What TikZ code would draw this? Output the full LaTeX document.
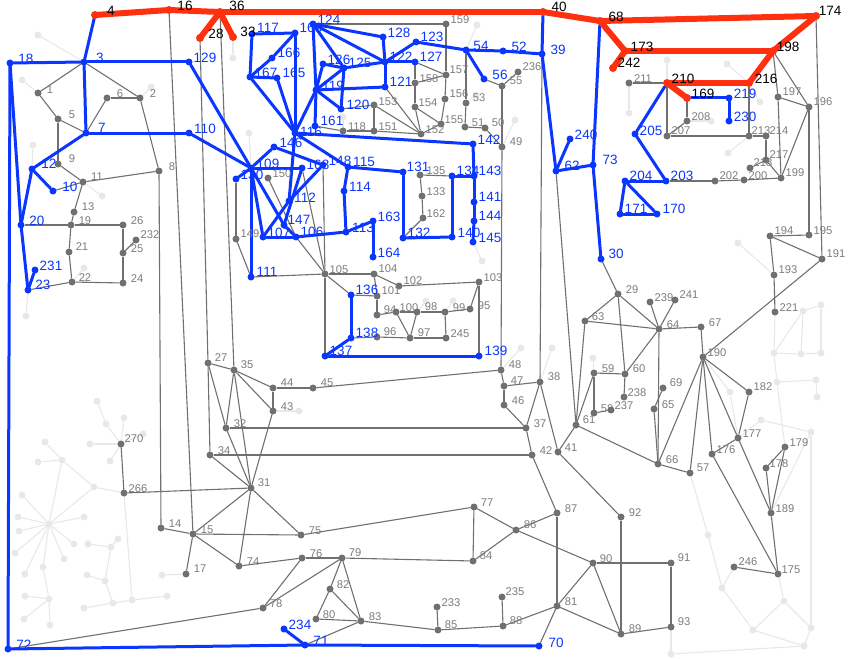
\documentclass[tikz,border=0pt]{standalone}
\usepackage{fontspec}
\setmainfont{Liberation Sans}
\usetikzlibrary{backgrounds}
\definecolor{cblue}{HTML}{0A36FF}
\definecolor{cred}{HTML}{FF3010}
\definecolor{cgray}{HTML}{707070}
\definecolor{cgtxt}{HTML}{7C7C7C}
\definecolor{clight}{HTML}{E8E8E8}
\tikzset{
 dotbase/.style={circle,inner sep=0pt,outer sep=0pt,minimum size=7pt},
 gdot/.style={dotbase,fill=cgray},
 bdot/.style={dotbase,fill=cblue},
 rdot/.style={dotbase,fill=cred,minimum size=8pt},
 ldot/.style={dotbase,fill=clight},
 glbl/.style={text=cgtxt,inner sep=0pt,font=\fontsize{11.2}{12}\selectfont},
 blbl/.style={text=cblue,inner sep=0pt,font=\fontsize{13.5}{14}\selectfont},
 rlbl/.style={text=black,inner sep=0pt,font=\fontsize{13.5}{14}\selectfont},
 ledge/.style={draw=clight,line width=1.1pt},
 gedge/.style={draw=cgray,line width=1.1pt},
 bedge/.style={draw=cblue,line width=3pt,line cap=round},
 redge/.style={draw=cred,line width=6pt,line cap=round,line join=round}
}
\newcommand{\GN}[5]{\node[gdot] (n#1) at (#2,#3) {};\node[glbl] (t#1) at (#4,#5) {#1};}
\newcommand{\BN}[5]{\node[bdot] (n#1) at (#2,#3) {};\node[blbl] (t#1) at (#4,#5) {#1};}
\newcommand{\RN}[5]{\node[rdot] (n#1) at (#2,#3) {};\node[rlbl] (t#1) at (#4,#5) {#1};}
\newcommand{\LN}[3]{\node[ldot] (n#1) at (#2,#3) {};}
\begin{document}
\begin{tikzpicture}[x=1pt,y=-1pt]
\useasboundingbox (0,0) rectangle (853,658);
% light nodes
\LN{a1}{38}{35}\LN{a2}{22}{80}\LN{a3}{151}{87}\LN{a4}{33}{145}\LN{a5}{102}{196}\LN{a6}{26}{316}\LN{a7}{84}{268}
\LN{a8}{233}{58}\LN{a9}{249}{133}\LN{a10}{343}{117}\LN{a11}{477}{25}\LN{a12}{476}{95}\LN{a13}{515}{120}\LN{a14}{482}{261}
\LN{a15}{426}{301}\LN{a16}{453}{301}\LN{a17}{521}{348}\LN{a18}{552}{348}\LN{a19}{299}{411}\LN{a20}{629}{113}\LN{a21}{667}{60}
\LN{a22}{711}{121}\LN{a23}{727}{64}\LN{a24}{760}{102}\LN{a25}{728}{153}\LN{a26}{738}{243}\LN{a27}{593}{358}
\LN{b1}{803}{311}\LN{b2}{821}{305}\LN{b3}{774}{353}\LN{b4}{801}{354}\LN{b5}{821}{353}\LN{b6}{777}{382}\LN{b7}{816}{380}\LN{b8}{817}{397}
\LN{b9}{730}{392}\LN{b10}{761}{420}\LN{b11}{811}{432}\LN{b12}{708}{535}\LN{b13}{722}{588}\LN{b14}{753}{630}\LN{b15}{784}{601}\LN{b16}{811}{628}\LN{b17}{804}{646}\LN{b18}{671}{654}
\LN{c1}{97}{401}\LN{c2}{106}{424}\LN{c3}{124}{418}\LN{c4}{143}{434}\LN{c5}{90}{444}\LN{c6}{110}{461}
\LN{c7}{45}{442}\LN{c8}{62}{460}\LN{c9}{38}{462}\LN{c10}{94}{487}\LN{c11}{49}{524}\LN{c12}{22}{495}\LN{c13}{18}{517}\LN{c14}{19}{531}\LN{c15}{15}{553}
\LN{c16}{25}{574}\LN{c17}{43}{567}\LN{c18}{64}{559}\LN{c19}{74}{544}\LN{c20}{84}{517}\LN{c21}{49}{599}\LN{c22}{25}{596}\LN{c23}{24}{619}\LN{c24}{50}{625}
\LN{c25}{88}{544}\LN{c26}{111}{547}\LN{c27}{118}{539}\LN{c28}{105}{581}\LN{c29}{87}{575}\LN{c30}{113}{603}\LN{c31}{84}{608}\LN{c32}{132}{600}\LN{c33}{167}{596}\LN{c34}{162}{575}
% gray nodes
\GN{1}{38}{93}{50}{90}\GN{2}{140}{98}{153}{94}\GN{5}{58}{119}{72}{115}\GN{6}{107}{98}{120}{94}\GN{8}{159}{171}{172}{167}\GN{9}{58}{164}{72}{159}
\GN{11}{83}{182}{97}{177}\GN{13}{74}{212}{88}{207}\GN{19}{71}{225}{85}{221}\GN{21}{69}{252}{82}{247}\GN{22}{72}{282}{85}{278}\GN{24}{123}{283}{137}{279}
\GN{25}{123}{253}{137}{249}\GN{26}{123}{225}{137}{221}\GN{232}{136}{240}{150}{235}\GN{149}{236}{239}{250}{234}\GN{27}{208}{363}{221}{358}\GN{35}{234}{370}{247}{365}
\GN{44}{273}{388}{287}{383}\GN{45}{313}{388}{327}{383}\GN{43}{273}{411}{287}{407}\GN{32}{226}{428}{240}{424}\GN{34}{210}{455}{224}{451}\GN{31}{251}{488}{264}{483}
\GN{270}{121}{444}{134}{439}\GN{266}{124}{493}{138}{489}\GN{14}{161}{528}{175}{524}\GN{15}{193}{534}{207}{530}\GN{17}{186}{574}{200}{569}\GN{74}{239}{566}{253}{562}
\GN{75}{301}{535}{315}{531}\GN{76}{302}{558}{316}{554}\GN{78}{263}{608}{276}{604}\GN{77}{474}{507}{487}{503}\GN{86}{516}{530}{530}{525}\GN{79}{342}{558}{355}{553}
\GN{84}{473}{561}{486}{556}\GN{82}{330}{589}{343}{585}\GN{80}{316}{619}{329}{615}\GN{83}{361}{621}{375}{617}\GN{233}{437}{607}{451}{603}\GN{85}{438}{630}{451}{625}
\GN{235}{502}{597}{515}{592}\GN{88}{503}{626}{516}{621}\GN{87}{557}{513}{571}{509}\GN{81}{557}{606}{571}{602}\GN{61}{576}{425}{589}{420}\GN{41}{558}{452}{571}{448}
\GN{42}{532}{455}{546}{451}\GN{92}{621}{517}{635}{513}\GN{66}{658}{464}{672}{460}\GN{57}{690}{473}{703}{468}\GN{176}{712}{454}{726}{450}\GN{177}{738}{438}{752}{434}
\GN{179}{785}{447}{799}{443}\GN{178}{766}{468}{779}{464}\GN{189}{771}{513}{785}{509}\GN{90}{593}{563}{606}{559}\GN{91}{671}{563}{684}{558}\GN{89}{621}{634}{635}{629}
\GN{93}{671}{627}{684}{622}\GN{246}{734}{567}{748}{562}\GN{175}{778}{574}{791}{570}\GN{29}{618}{294}{632}{290}\GN{239}{650}{302}{664}{298}\GN{241}{675}{300}{689}{295}
\GN{63}{585}{321}{598}{317}\GN{64}{659}{329}{673}{325}\GN{67}{701}{327}{715}{323}\GN{190}{703}{357}{717}{353}\GN{59}{594}{373}{608}{369}\GN{60}{625}{374}{639}{369}
\GN{238}{624}{397}{637}{393}\GN{58}{594}{413}{607}{409}\GN{237}{611}{410}{624}{406}\GN{69}{663}{388}{676}{383}\GN{65}{654}{409}{668}{405}\GN{182}{749}{392}{763}{387}
\GN{193}{774}{275}{788}{270}\GN{221}{775}{312}{789}{308}\GN{194}{770}{236}{784}{231}\GN{195}{809}{235}{823}{231}\GN{191}{822}{259}{836}{254}
\GN{211}{629}{83}{643}{79}\GN{208}{687}{121}{701}{117}\GN{207}{667}{136}{681}{131}\GN{213}{749}{136}{761}{131}\GN{214}{766}{136}{779}{131}\GN{217}{766}{160}{779}{155}
\GN{218}{750}{168}{763}{163}\GN{199}{781}{178}{795}{173}\GN{202}{715}{181}{729}{176}\GN{200}{744}{180}{758}{176}\GN{197}{778}{97}{792}{92}\GN{196}{809}{107}{823}{102}
\GN{159}{446}{24}{460}{20}\GN{55}{502}{86}{516}{81}\GN{236}{518}{72}{532}{67}\GN{157}{446}{75}{459}{70}\GN{158}{415}{83}{429}{79}\GN{156}{445}{99}{459}{94}
\GN{53}{466}{103}{479}{98}\GN{154}{415}{107}{428}{103}\GN{155}{441}{124}{454}{120}\GN{152}{421}{134}{435}{130}\GN{51}{465}{127}{478}{123}\GN{50}{485}{128}{498}{123}
\GN{49}{502}{147}{516}{142}\GN{135}{420}{175}{436}{171}\GN{133}{422}{196}{436}{192}\GN{162}{423}{218}{436}{214}\GN{153}{374}{105}{388}{102}\GN{118}{343}{131}{357}{127}
\GN{151}{374}{131}{388}{127}\GN{150}{268}{178}{282}{174}\GN{105}{325}{274}{339}{270}\GN{104}{374}{274}{388}{269}\GN{102}{399}{286}{413}{281}\GN{103}{479}{282}{493}{278}
\GN{101}{377}{296}{391}{291}\GN{94}{377}{315}{390}{310}\GN{100}{396}{312}{409}{308}\GN{98}{417}{312}{431}{307}\GN{99}{445}{312}{459}{308}\GN{95}{470}{309}{484}{306}
\GN{96}{377}{337}{390}{332}\GN{97}{410}{338}{424}{333}\GN{245}{446}{338}{460}{334}\GN{48}{501}{370}{515}{365}\GN{47}{504}{386}{517}{381}\GN{38}{540}{382}{554}{377}
\GN{46}{504}{405}{518}{401}\GN{37}{526}{428}{540}{424}
% blue nodes
\BN{18}{10}{63}{26}{59}\BN{3}{84}{62}{100}{58}\BN{129}{189}{62}{205}{58}\BN{7}{86}{133}{102}{128}\BN{110}{189}{133}{205}{129}\BN{12}{32}{169}{49}{164}\BN{10}{53}{191}{70}{187}
\BN{20}{21}{225}{37}{221}\BN{231}{35}{270}{51}{266}\BN{23}{28}{290}{43}{285}\BN{111}{251}{277}{267}{272}\BN{234}{284}{629}{300}{625}\BN{71}{305}{645}{321}{641}\BN{72}{8}{649}{24}{645}
\BN{70}{539}{646}{556}{643}\BN{30}{601}{259}{616}{254}\BN{73}{593}{165}{610}{160}\BN{219}{729}{98}{745}{94}\BN{230}{729}{121}{745}{117}\BN{205}{635}{134}{651}{131}
\BN{203}{666}{181}{682}{176}\BN{204}{625}{181}{641}{176}\BN{171}{620}{214}{636}{209}\BN{170}{657}{214}{674}{209}\BN{54}{466}{50}{481}{46}\BN{52}{503}{51}{519}{47}
\BN{39}{542}{54}{558}{50}\BN{123}{416}{42}{432}{37}\BN{127}{415}{62}{431}{57}\BN{56}{484}{79}{500}{75}\BN{142}{473}{144}{489}{140}\BN{240}{570}{139}{586}{135}\BN{62}{556}{171}{572}{166}
\BN{131}{403}{172}{418}{167}\BN{134}{452}{176}{468}{171}\BN{143}{474}{176}{490}{171}\BN{141}{474}{202}{490}{197}\BN{144}{474}{221}{490}{216}\BN{132}{403}{238}{419}{233}
\BN{140}{452}{237}{469}{233}\BN{145}{473}{242}{490}{238}\BN{117}{252}{34}{268}{28}\BN{160}{295}{33}{311}{28}\BN{124}{313}{24}{329}{20}\BN{128}{383}{37}{399}{33}\BN{122}{385}{62}{401}{57}
\BN{166}{272}{58}{289}{53}\BN{167}{250}{77}{266}{73}\BN{165}{277}{78}{294}{73}\BN{126}{323}{64}{339}{60}\BN{125}{344}{68}{360}{63}\BN{119}{316}{90}{333}{86}\BN{121}{385}{87}{401}{82}
\BN{120}{341}{109}{358}{105}\BN{161}{315}{126}{332}{121}\BN{116}{295}{133}{311}{132}\BN{146}{274}{147}{291}{143}\BN{109}{251}{168}{268}{164}\BN{130}{236}{179}{252}{175}
\BN{168}{302}{168}{318}{165}\BN{148}{323}{165}{340}{161}\BN{115}{348}{167}{364}{162}\BN{114}{344}{191}{360}{187}\BN{112}{289}{201}{305}{198}\BN{147}{284}{225}{299}{220}
\BN{107}{263}{237}{279}{233}\BN{106}{296}{237}{312}{232}\BN{113}{346}{232}{363}{228}\BN{163}{373}{221}{389}{217}\BN{164}{373}{257}{389}{253}\BN{136}{351}{295}{367}{290}
\BN{138}{351}{338}{367}{333}\BN{137}{325}{356}{341}{351}\BN{139}{479}{356}{496}{351}
% red nodes
\RN{4}{95}{15}{111}{11}\RN{16}{169}{10}{185}{6}\RN{36}{220}{12}{237}{6}\RN{28}{200}{38}{216}{34}\RN{33}{233}{37}{248}{32}\RN{40}{543}{12}{559}{7}\RN{68}{600}{21}{616}{17}
\RN{174}{816}{16}{830}{11}\RN{173}{625}{51}{642}{47}\RN{198}{773}{51}{788}{47}\RN{242}{613}{68}{629}{63}\RN{210}{667}{83}{683}{79}\RN{216}{749}{83}{766}{79}\RN{169}{687}{98}{703}{94}
\begin{pgfonlayer}{background}
\foreach \a/\b in {a1/3,a2/1,a3/2,a4/12,a5/11,a6/23,a7/22,a8/33,a9/109,a10/118,a11/54,a12/53,a13/49,a14/145,a15/98,a16/99,a17/48,a18/38,a19/43,a20/211,a21/210,a22/208,a23/216,a24/216,a25/213,a26/193,a27/59,
 221/b3,b3/b1,b1/b2,b2/b5,b5/b4,b4/b3,b4/b1,b3/b6,b6/179,b6/b7,b7/b8,190/b9,b9/177,177/b10,b10/b11,b11/189,b11/b16,57/b12,b12/b13,b13/246,b13/b14,b14/b15,b14/b17,b15/b16,b16/b17,b17/b18,b18/93,175/b15,
 c1/c2,c2/270,270/c3,270/c4,270/c5,270/c6,c7/c8,c9/c8,c8/c10,c8/c11,c10/c11,c10/266,c11/c12,c11/c13,c11/c14,c11/c15,c11/c16,c11/c17,c11/c18,c11/c19,c11/c20,c17/c21,c22/c21,c23/c21,c24/c21,
 c25/c26,c27/c26,c26/c28,c29/c28,c28/c30,c31/c30,c30/c32,c32/c33,c32/266,17/c34}
 {\draw[ledge] (n\a) -- (n\b);}
\foreach \a/\b in {3/1,1/5,5/7,5/9,9/11,10/11,11/8,8/14,6/7,6/2,2/3,2/8,11/13,13/19,19/20,19/26,19/21,21/22,22/23,22/24,24/25,25/26,25/232,
 16/15,28/27,36/35,130/149,149/111,111/105,105/104,148/105,168/105,150/106,106/105,105/136,105/137,104/102,102/103,104/101,101/136,101/94,94/100,100/98,98/99,99/95,100/97,98/97,99/245,245/97,97/96,96/138,95/103,103/139,
 124/159,159/157,157/156,156/155,127/158,158/154,154/152,158/157,127/157,154/155,155/152,54/53,53/51,51/50,50/49,56/55,55/236,55/49,49/48,39/38,62/61,135/134,135/133,133/162,162/132,
 161/118,118/151,151/153,120/153,121/152,153/152,151/152,
 48/45,48/47,47/46,47/38,46/37,38/37,37/42,37/32,42/34,42/87,38/41,27/35,27/34,27/32,35/44,35/43,35/32,35/31,44/43,43/31,32/31,34/31,44/45,31/15,31/74,31/75,31/266,15/14,15/75,15/17,15/74,74/76,76/79,76/78,79/78,78/72,79/84,79/82,79/83,82/80,82/83,80/83,83/71,83/85,85/233,85/88,88/235,88/81,81/70,81/87,81/90,81/89,90/89,90/91,91/93,93/89,92/89,41/92,41/61,61/66,77/84,77/86,84/86,86/87,86/90,75/77,270/266,
 61/63,61/59,59/58,58/237,59/60,60/238,60/64,60/29,29/63,29/64,63/64,64/239,64/241,64/67,64/66,65/69,65/66,67/190,190/191,190/182,190/177,190/176,190/57,190/66,182/177,177/189,176/177,176/175,179/178,178/189,179/189,189/175,246/175,66/57,30/29,
 198/197,198/196,197/196,197/199,196/199,174/191,196/195,194/195,194/191,194/193,193/221,211/210,210/207,207/213,213/214,214/217,217/218,217/199,216/213,207/208,208/169,203/202,202/200,200/199}
 {\draw[gedge] (n\a) -- (n\b);}
\foreach \a/\b in {18/3,3/129,129/109,3/7,3/4,7/110,110/109,7/12,12/10,12/20,18/20,18/72,72/71,71/70,20/23,23/231,71/234,
 109/130,109/168,109/111,109/107,109/147,109/146,146/148,116/115,116/142,116/112,107/112,112/148,147/168,147/106,107/106,106/113,113/163,163/164,113/114,114/115,115/131,
 117/160,117/167,167/166,166/160,167/165,165/116,167/116,160/116,124/119,119/161,124/125,124/128,124/122,128/122,122/121,122/123,122/127,125/122,125/126,126/119,125/119,125/120,119/120,119/121,119/116,
 131/132,132/140,140/134,134/143,143/141,141/144,144/145,142/143,54/123,54/52,52/39,54/56,39/62,62/240,62/73,40/39,68/73,73/30,136/138,138/137,137/139,
 210/205,205/203,203/204,204/171,171/170,204/170,169/219,219/230}
 {\draw[bedge] (n\a) -- (n\b);}
\foreach \a/\b in {4/16,16/36,36/40,36/28,36/33,40/68,68/174,68/173,173/242,173/198,174/198,198/216,216/210,210/169}
 {\draw[redge] (n\a.center) -- (n\b.center);}
\end{pgfonlayer}
\end{tikzpicture}
\end{document}
